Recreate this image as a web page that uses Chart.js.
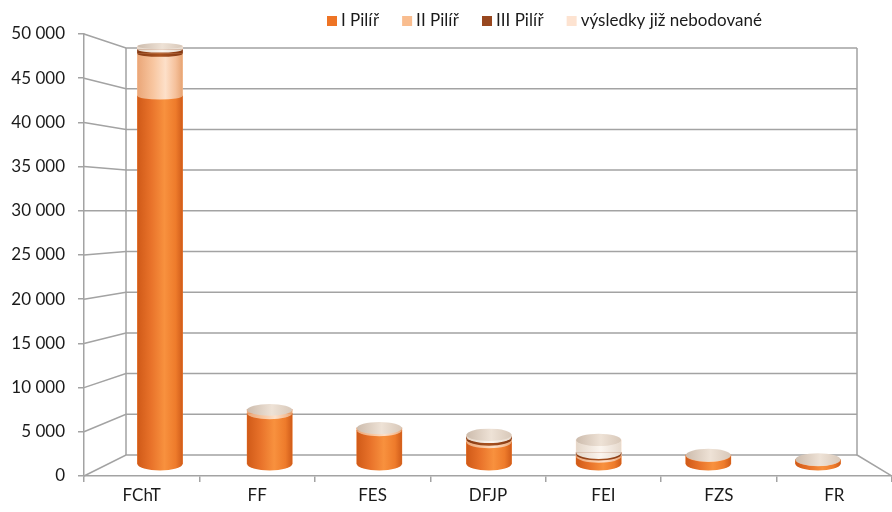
<!DOCTYPE html>
<html>
<head>
<meta charset="utf-8">
<script src="https://cdn.jsdelivr.net/npm/chart.js@4.4.1/dist/chart.umd.min.js"></script>
<style>
  html, body { margin: 0; padding: 0; background: #fff; }
  #wrap { width: 892px; height: 512px; }
</style>
</head>
<body>
<div id="wrap"><canvas id="c" width="892" height="512"></canvas></div>
<script>
// Body of 3D cylinder chart: stacked values per faculty.
const CATEGORIES = ['FChT', 'FF', 'FES', 'DFJP', 'FEI', 'FZS', 'FR'];
const SERIES_NAMES = ['I Pilíř', 'II Pilíř', 'III Pilíř', 'výsledky již nebodované'];
const PILIR_I = [43500, 6000, 4000, 2600, 900, 1000, 500];
const PILIR_II = [5000, 400, 250, 300, 250, 50, 30];
const PILIR_III = [500, 0, 0, 300, 200, 0, 0];
const NEBODOVANE = [400, 0, 0, 250, 1500, 0, 0];
const Y_MAX = 50000;
const Y_STEP = 5000;

const LEGEND_COLORS = ['#ee7425', '#f9bd8f', '#98471f', '#fde3d1'];
// side shading of each cylinder segment, left edge -> right edge
const SIDE_STOPS = [
  [[0, '#d05a18'], [0.3, '#e8722a'], [0.6, '#f8913e'], [0.85, '#ee7b2b'], [1, '#d05c1a']],
  [[0, '#eaa678'], [0.35, '#f8c6a0'], [0.62, '#fde0c9'], [0.85, '#f5c09a'], [1, '#e6a474']],
  [[0, '#853a14'], [0.5, '#a9521f'], [1, '#853a14']],
  [[0, '#e4d6c8'], [0.55, '#fbf5ef'], [1, '#e6d9cc']],
];
const TOP_STOPS = [[0, '#cdbcad'], [0.55, '#eee2d6'], [1, '#d8c8b9']];

const FONT = { family: 'Lato, "Open Sans", sans-serif', size: 17 };
const LINE = '#a3a3a3';

function fmtTick(v) {
  return v === 0 ? '0' : (v / 1000) + ' 000';
}

function sideGrad(ctx, x, w, stops) {
  const g = ctx.createLinearGradient(x - w / 2, 0, x + w / 2, 0);
  stops.forEach((s) => g.addColorStop(s[0], s[1]));
  return g;
}

function toPoints(arr) {
  return arr.map((v, i) => ({ x: i, y: v }));
}

const SERIES = [PILIR_I, PILIR_II, PILIR_III, NEBODOVANE];

// perspective walls: left side wall, back wall and floor
const wallsPlugin = {
  id: 'walls',
  beforeDatasetsDraw(chart) {
    const { ctx, chartArea: a, scales } = chart;
    const yf = scales.y, yb = scales.yb;
    const backL = a.left + 42, backR = a.right - 35;
    ctx.save();
    ctx.strokeStyle = LINE;
    ctx.lineWidth = 1.5;
    for (let v = 0; v <= Y_MAX; v += Y_STEP) {
      ctx.beginPath();
      ctx.moveTo(a.left, yf.getPixelForValue(v));
      ctx.lineTo(backL, yb.getPixelForValue(v));
      ctx.lineTo(backR, yb.getPixelForValue(v));
      ctx.stroke();
    }
    ctx.beginPath();
    ctx.moveTo(backL, yb.getPixelForValue(Y_MAX));
    ctx.lineTo(backL, yb.getPixelForValue(0));
    ctx.moveTo(backR, yb.getPixelForValue(Y_MAX));
    ctx.lineTo(backR, yb.getPixelForValue(0));
    ctx.lineTo(a.right, yf.getPixelForValue(0));
    ctx.stroke();
    ctx.restore();
  },
};

// shaded sides, rounded fronts of the stacked segments and the top faces
const cylinderPlugin = {
  id: 'cylinders',
  afterDatasetsDraw(chart) {
    const { ctx, chartArea: a } = chart;
    const ry = (py) => 3 + 3.5 * Math.min(1, Math.max(0, (py - a.top) / (a.bottom - a.top)));
    ctx.save();
    for (let i = 0; i < CATEGORIES.length; i++) {
      let top = null;
      for (let k = 0; k < SERIES.length; k++) {
        if (!(SERIES[k][i] > 0)) continue;
        const el = chart.getDatasetMeta(k).data[i];
        const rx = el.width / 2;
        ctx.fillStyle = sideGrad(ctx, el.x, el.width, SIDE_STOPS[k]);
        ctx.fillRect(el.x - rx, el.y, el.width, el.base - el.y);
        ctx.beginPath();
        ctx.ellipse(el.x, el.base, rx, ry(el.base), 0, 0, Math.PI);
        ctx.fill();
        top = el;
      }
      if (top) {
        const rx = top.width / 2;
        ctx.fillStyle = sideGrad(ctx, top.x, top.width, TOP_STOPS);
        ctx.beginPath();
        ctx.ellipse(top.x, top.y, rx, ry(top.y), 0, 0, Math.PI * 2);
        ctx.fill();
      }
    }
    ctx.restore();
  },
};

const legendPlugin = {
  id: 'legendRow',
  afterDraw(chart) {
    const ctx = chart.ctx;
    ctx.save();
    ctx.font = FONT.size + 'px ' + FONT.family;
    ctx.textBaseline = 'middle';
    let x = 327;
    const cy = 21;
    SERIES_NAMES.forEach((name, k) => {
      ctx.fillStyle = LEGEND_COLORS[k];
      ctx.fillRect(x, cy - 5, 10, 10);
      ctx.fillStyle = '#1a1a1a';
      ctx.fillText(name, x + 14, cy);
      x += 14 + ctx.measureText(name).width + 23;
    });
    ctx.restore();
  },
};

new Chart(document.getElementById('c'), {
  type: 'bar',
  data: {
    labels: CATEGORIES,
    datasets: SERIES.map((arr, k) => ({
      label: SERIES_NAMES[k],
      data: toPoints(arr),
      xAxisID: 'xb',
      yAxisID: 'y1',
      barThickness: 45,
      borderWidth: 0,
      backgroundColor: LEGEND_COLORS[k],
    })),
  },
  options: {
    responsive: false,
    devicePixelRatio: 1,
    animation: false,
    layout: { padding: { top: 34, left: 0, right: 0, bottom: 0 } },
    plugins: { legend: { display: false }, tooltip: { enabled: false } },
    scales: {
      x: {
        type: 'category',
        position: 'bottom',
        offset: true,
        grid: { offset: true, drawOnChartArea: false, drawTicks: true, tickLength: 6, color: LINE, lineWidth: 1.5 },
        border: { color: LINE, width: 1.5 },
        ticks: { font: FONT, color: '#1a1a1a', padding: 3 },
        afterFit: (s) => { s.height = 36; },
      },
      y: {
        type: 'linear',
        position: 'left',
        min: 0, max: Y_MAX,
        grid: { drawOnChartArea: false, drawTicks: true, tickLength: 6, color: LINE, lineWidth: 1.5 },
        border: { color: LINE, width: 1.5 },
        ticks: { stepSize: Y_STEP, font: FONT, color: '#1a1a1a', padding: 13, callback: fmtTick },
        afterFit: (s) => { s.width = 84; },
      },
      // plane of the cylinders (halfway between front and back wall)
      xb: { type: 'linear', display: false, offset: false, grid: { offset: false }, min: -0.693, max: 6.675, stacked: true },
      y1: { type: 'linear', display: false, min: -1418, max: 50828, stacked: true },
      // back wall
      yb: { type: 'linear', display: false, min: -2580, max: 51720 },
    },
  },
  plugins: [wallsPlugin, cylinderPlugin, legendPlugin],
});
</script>
</body>
</html>
